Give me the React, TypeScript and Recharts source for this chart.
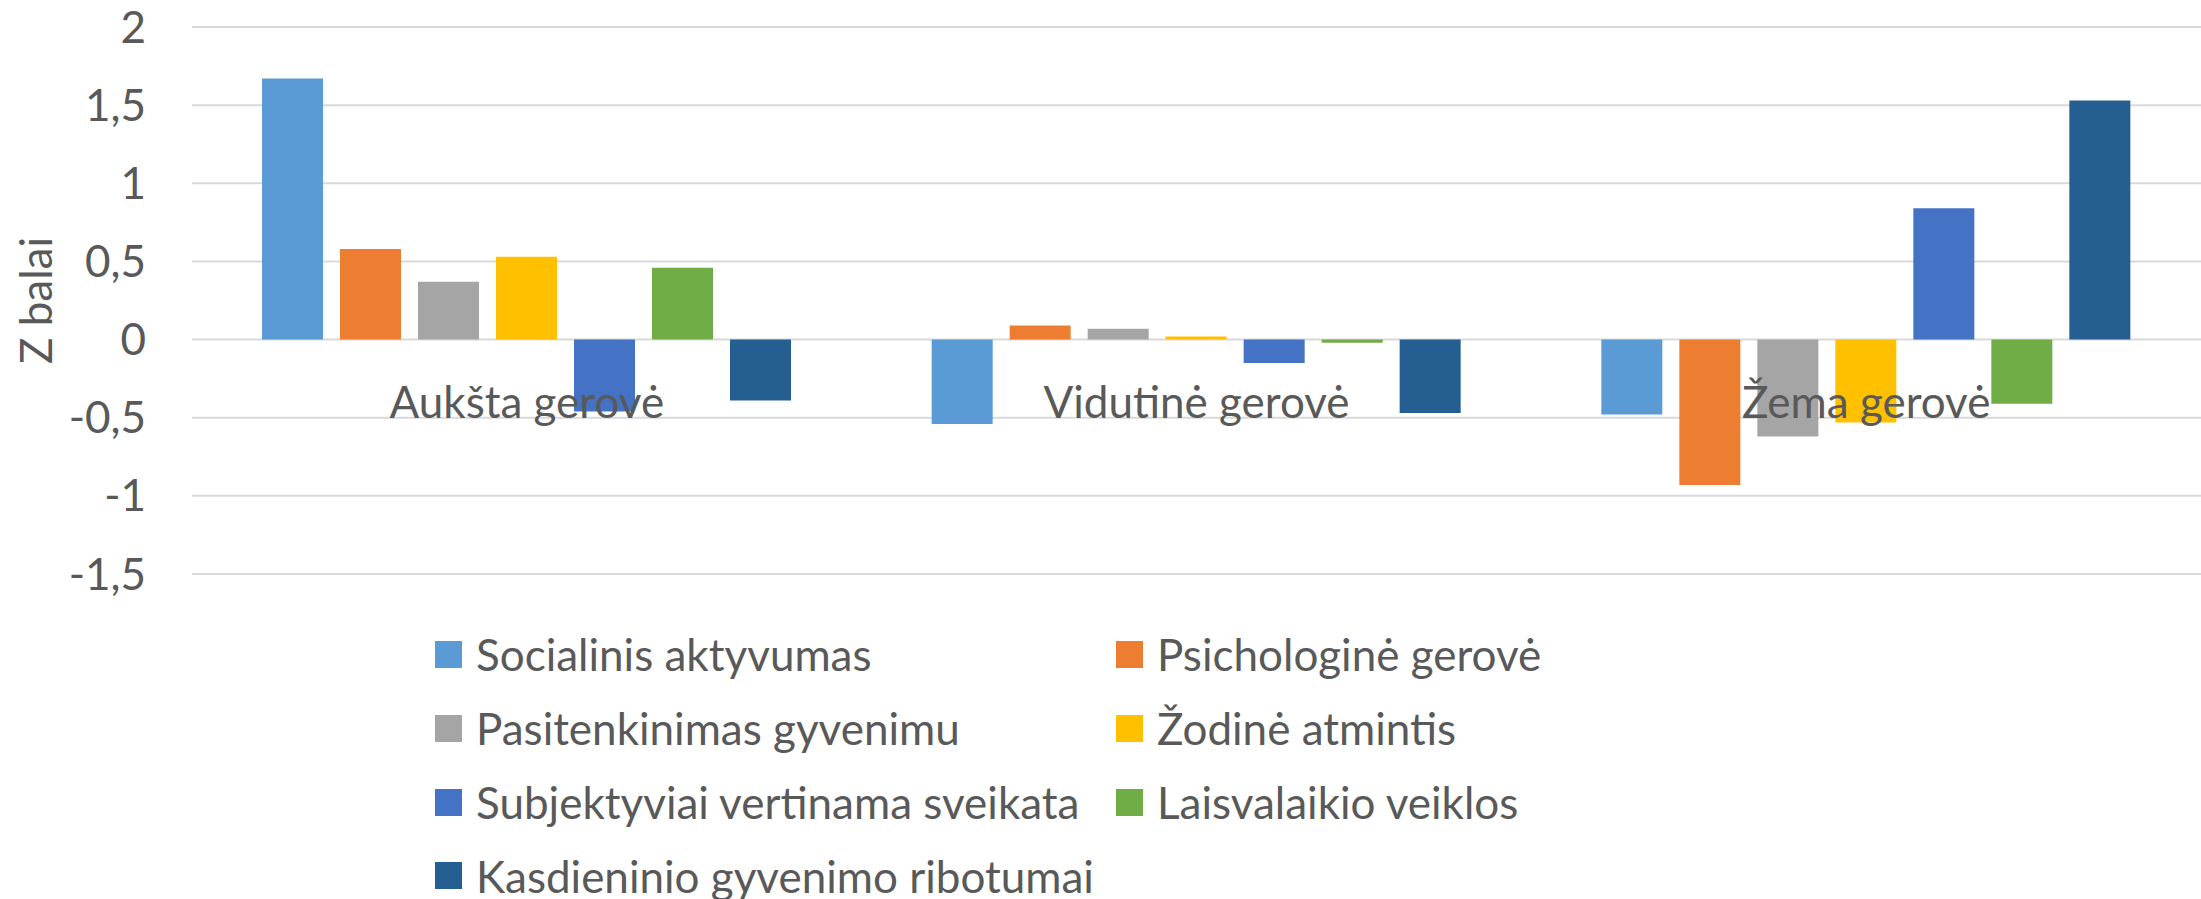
import React from 'react';
import { BarChart, Bar, XAxis, YAxis, CartesianGrid } from 'recharts';

const categories = ['Aukšta gerovė', 'Vidutinė gerovė', 'Žema gerovė'];

const socialinisAktyvumas = [1.67, -0.54, -0.48];
const psichologineGerove = [0.58, 0.09, -0.93];
const pasitenkinimasGyvenimu = [0.37, 0.07, -0.62];
const zodineAtmintis = [0.53, 0.02, -0.53];
const subjektyviaiSveikata = [-0.46, -0.15, 0.84];
const laisvalaikioVeiklos = [0.46, -0.02, -0.41];
const kasdieniniaiRibotumai = [-0.39, -0.47, 1.53];

const yTicks = [-1.5, -1, -0.5, 0, 0.5, 1, 1.5, 2];

const series = [
  { key: 's1', name: 'Socialinis aktyvumas', values: socialinisAktyvumas, color: '#5B9BD5' },
  { key: 's2', name: 'Psichologinė gerovė', values: psichologineGerove, color: '#ED7D31' },
  { key: 's3', name: 'Pasitenkinimas gyvenimu', values: pasitenkinimasGyvenimu, color: '#A5A5A5' },
  { key: 's4', name: 'Žodinė atmintis', values: zodineAtmintis, color: '#FFC000' },
  { key: 's5', name: 'Subjektyviai vertinama sveikata', values: subjektyviaiSveikata, color: '#4472C4' },
  { key: 's6', name: 'Laisvalaikio veiklos', values: laisvalaikioVeiklos, color: '#70AD47' },
  { key: 's7', name: 'Kasdieninio gyvenimo ribotumai', values: kasdieniniaiRibotumai, color: '#255E91' },
];

const data = categories.map((name, i) => {
  const row: Record<string, string | number> = { name };
  series.forEach((s) => {
    row[s.key] = s.values[i];
  });
  return row;
});

const W = 2201;
const H = 899;
const MARGIN = { top: 27, right: 0, bottom: 295, left: 0 };
const Y_AXIS_W = 192;
const X_AXIS_H = 30;
const PLOT_H = H - MARGIN.top - MARGIN.bottom - X_AXIS_H;
// the category labels hang under the zero line, one tick step down
const ZERO_Y = MARGIN.top + (PLOT_H * 2) / 3.5;
const FONT = 'Lato, sans-serif';
const FONT_SIZE = 44;
const TEXT = '#595959';

const CategoryTick = (props: any) => {
  const { x, payload } = props;
  return (
    <text x={x} y={ZERO_Y + PLOT_H / 7} textAnchor="middle" fill={TEXT} fontSize={FONT_SIZE} fontFamily={FONT}>
      {payload.value}
    </text>
  );
};

export default function App() {
  return (
    <div style={{ position: 'absolute', left: 0, top: 0, width: W, height: H, background: '#fff' }}>
      <BarChart width={W} height={H} data={data} margin={MARGIN} barSize={61} barGap={17}>
        <CartesianGrid vertical={false} stroke="#D9D9D9" strokeWidth={2} />
        <YAxis
          width={Y_AXIS_W}
          domain={[-1.5, 2]}
          ticks={yTicks}
          interval={0}
          axisLine={false}
          tickLine={false}
          tickSize={0}
          tickMargin={46}
          tickFormatter={(v: number) => String(v).replace('.', ',')}
          tick={{ fill: TEXT, fontSize: FONT_SIZE, fontFamily: FONT }}
          label={{
            value: 'Z balai',
            angle: -90,
            position: 'insideLeft',
            offset: 36,
            style: { textAnchor: 'middle' },
            fill: TEXT,
            fontSize: FONT_SIZE,
            fontFamily: FONT,
          }}
        />
        {series.map((s) => (
          <Bar key={s.key} dataKey={s.key} name={s.name} fill={s.color} isAnimationActive={false} />
        ))}
        <XAxis dataKey="name" height={X_AXIS_H} axisLine={false} tickLine={false} tick={<CategoryTick />} interval={0} />
      </BarChart>
      <div
        style={{
          position: 'absolute',
          left: 435,
          top: 654.5 - 36.9,
          display: 'grid',
          gridTemplateColumns: '681px auto',
          gridAutoRows: '73.8px',
          fontFamily: FONT,
          fontSize: FONT_SIZE,
          color: TEXT,
        }}
      >
        {series.map((s) => (
          <div key={s.key} style={{ display: 'flex', alignItems: 'center', whiteSpace: 'nowrap' }}>
            <span style={{ width: 27, height: 27, background: s.color, marginRight: 14, flexShrink: 0 }} />
            <span>{s.name}</span>
          </div>
        ))}
      </div>
    </div>
  );
}
